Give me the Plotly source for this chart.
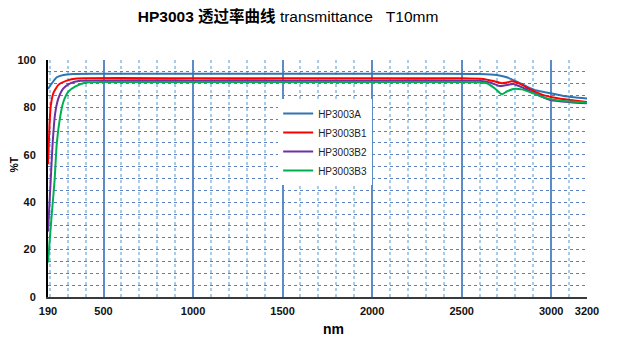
import plotly.graph_objects as go

# ---- data ----
WL_A = [190, 211, 239, 276, 332, 450, 1000, 1500, 2000, 2400, 2600, 2696, 2752, 2808, 2864, 2920, 2995, 3069, 3200]
T_A  = [87.8, 90.1, 92.7, 93.7, 94.1, 94.2, 94.2, 94.2, 94.2, 94.2, 94.1, 93.7, 92.7, 90.9, 88.8, 87.1, 86.0, 84.8, 83.7]

WL_B1 = [190, 198, 205, 220, 248, 295, 350, 1000, 1500, 2000, 2500, 2621, 2677, 2724, 2752, 2780, 2827, 2883, 2957, 3013, 3107, 3200]
T_B1  = [56.0, 71.9, 80.3, 86.0, 89.5, 91.3, 92.2, 92.3, 92.3, 92.3, 92.3, 92.0, 91.1, 90.2, 90.5, 91.0, 89.9, 87.6, 85.2, 84.2, 83.1, 82.3]

WL_B2 = [190, 200, 207, 216, 230, 248, 276, 314, 370, 1000, 1500, 2000, 2500, 2600, 2658, 2714, 2743, 2789, 2845, 2920, 2995, 3107, 3200]
T_B2  = [27.6, 42.0, 52.0, 65.0, 77.5, 83.8, 88.0, 90.1, 91.2, 91.4, 91.4, 91.4, 91.4, 91.2, 90.5, 89.0, 89.3, 89.9, 88.2, 85.5, 83.1, 82.2, 81.7]

WL_B3 = [190, 210, 227, 239, 258, 276, 304, 341, 397, 500, 1000, 1500, 2000, 2500, 2600, 2640, 2686, 2724, 2752, 2789, 2836, 2901, 2976, 3069, 3200]
T_B3  = [14.6, 34.0, 49.4, 64.8, 76.1, 82.4, 86.7, 88.8, 90.4, 90.7, 90.7, 90.7, 90.7, 90.7, 90.5, 90.2, 88.0, 85.5, 86.7, 87.8, 87.6, 85.9, 83.8, 82.7, 82.0]

NAMES = ["HP3003A", "HP3003B1", "HP3003B2", "HP3003B3"]
COLORS = ["#2E75B6", "#FF0000", "#7030A0", "#00B050"]

X_TICKS = [190, 500, 1000, 1500, 2000, 2500, 3000, 3200]
Y_TICKS = [0, 20, 40, 60, 80, 100]

X_RANGE = [190, 3200]
Y_RANGE = [0, 100]

fig = go.Figure()
for wl, t, name, col in zip([WL_A, WL_B1, WL_B2, WL_B3], [T_A, T_B1, T_B2, T_B3], NAMES, COLORS):
    fig.add_trace(go.Scatter(x=wl, y=t, name=name, mode="lines",
                             line=dict(color=col, width=2, shape="spline", smoothing=0.5)))

# invisible trace for label axis
fig.add_trace(go.Scatter(x=X_RANGE, y=Y_RANGE, xaxis="x2", mode="markers",
                         marker=dict(opacity=0), showlegend=False, hoverinfo="skip"))

tick_font = dict(family="Liberation Sans, Arial", size=11, color="#111111")

# page body has an 8px default margin; margins compensate for it
fig.update_layout(
    width=628, height=357,
    margin=dict(l=40, r=49, t=52, b=68),
    paper_bgcolor="white", plot_bgcolor="white",
    title=dict(text="<b>HP3003 透过率曲线</b> transmittance&nbsp;&nbsp;&nbsp;T10mm",
               font=dict(family="Liberation Sans, Arial, Noto Sans CJK SC", size=15.5, color="#000000"),
               xref="container", x=0.446, xanchor="center",
               yref="container", y=0.975, yanchor="middle", automargin=False),
    xaxis=dict(range=X_RANGE, tickmode="linear", tick0=0, dtick=500,
               showticklabels=False, ticks="", automargin=False,
               showgrid=True, gridcolor="#5B8CC8", gridwidth=1.5,
               minor=dict(tickmode="linear", tick0=0, dtick=100, showgrid=True,
                          gridcolor="#A9CBEA", griddash="dot", gridwidth=1.5),
               showline=True, linecolor="#3a3a3a", linewidth=2,
               zeroline=False),
    xaxis2=dict(range=X_RANGE, overlaying="x", anchor="y", side="bottom",
                tickmode="array", tickvals=X_TICKS, ticktext=[f"<b>{v}</b>" for v in X_TICKS],
                tickfont=tick_font, ticks="", ticklabelstandoff=6, automargin=False,
                showgrid=False, zeroline=False, showline=False),
    yaxis=dict(range=Y_RANGE, tickmode="array", tickvals=Y_TICKS,
               ticktext=[f"<b>{v}</b>" for v in Y_TICKS],
               tickfont=tick_font, ticks="", ticklabelstandoff=8, automargin=False,
               showgrid=True, gridcolor="#5B7FBF", griddash="dot", gridwidth=1,
               minor=dict(tickmode="linear", tick0=0, dtick=5, showgrid=True,
                          gridcolor="#5B7FBF", griddash="dot", gridwidth=1),
               showline=True, linecolor="#000000", linewidth=2, zeroline=False),
    legend=dict(x=0.427, y=0.835, xanchor="left", yanchor="top",
                bgcolor="white", borderwidth=0,
                font=dict(family="Liberation Sans, Arial", size=10, color="#222")),
    showlegend=True,
    annotations=[
        dict(text="<b>nm</b>", xref="paper", yref="paper", x=0.529, y=-0.135,
             xanchor="center", yanchor="middle", showarrow=False,
             font=dict(family="Liberation Sans, Arial", size=14, color="#000")),
        dict(text="<b>%T</b>", xref="paper", yref="paper", x=-0.064, y=0.557,
             xanchor="center", yanchor="middle", showarrow=False, textangle=-90,
             font=dict(family="Liberation Sans, Arial", size=10.5, color="#000")),
    ],
)

fig.write_html("out.html")
